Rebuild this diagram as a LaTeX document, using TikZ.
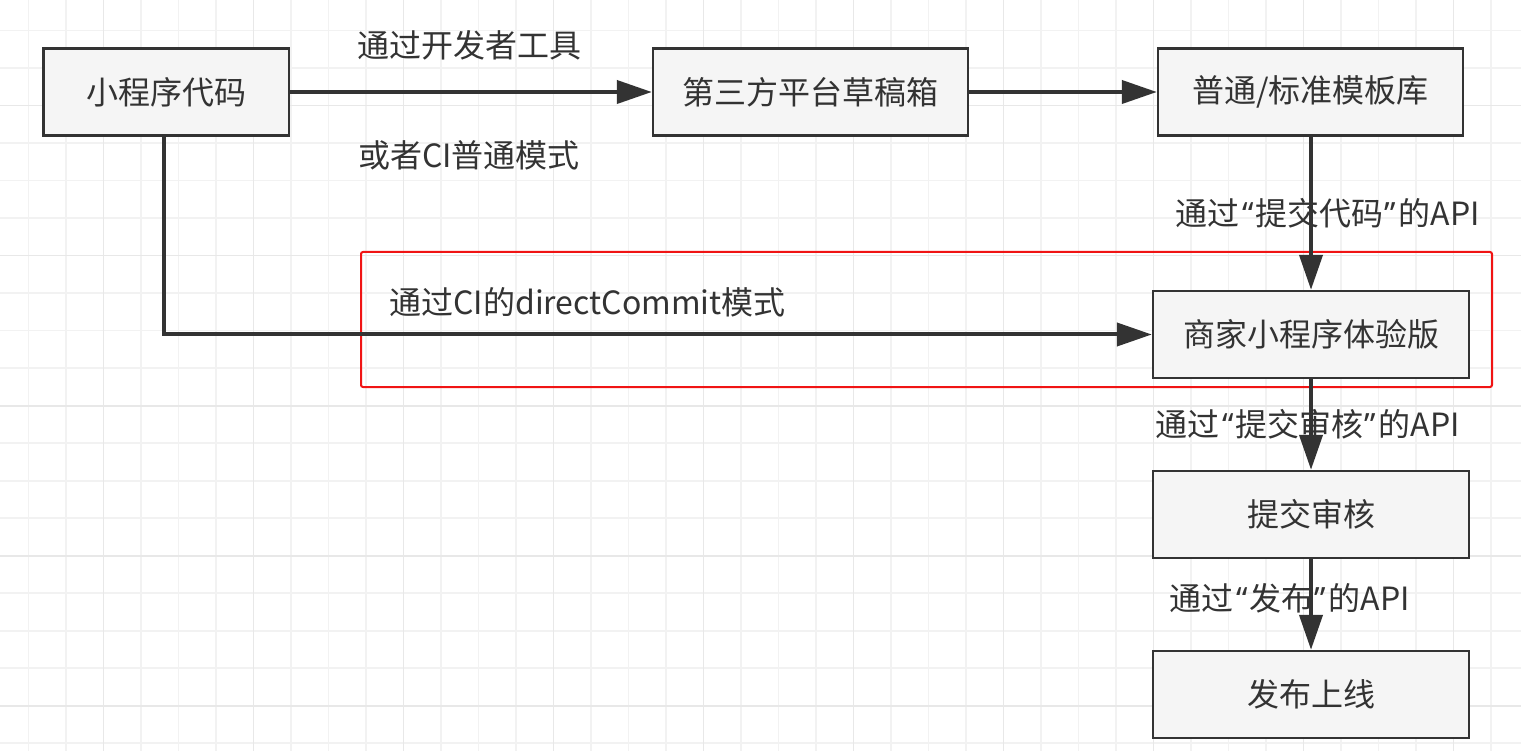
\documentclass[tikz,border=0pt]{standalone}
\usepackage{fontspec}
\setmainfont{Noto Sans CJK SC}
\newfontfamily\qfont{Noto Sans}
\newcommand{\myLQ}{{\kern2.5pt\qfont “\kern1.5pt}}
\newcommand{\myRQ}{{\kern1.5pt\qfont ”\kern2.5pt}}
\usetikzlibrary{arrows.meta}
\definecolor{ink}{HTML}{333333}
\definecolor{boxfill}{HTML}{F5F5F5}
\definecolor{gridminor}{HTML}{F2F2F2}
\definecolor{gridmajor}{HTML}{E8E8E8}
\definecolor{hl}{HTML}{F01414}
\tikzset{
  box/.style={draw=ink, fill=boxfill, line width=2.4pt, inner sep=0pt,
    minimum height=87pt, text=ink, font=\fontsize{32}{38}\selectfont},
  lbl/.style={inner sep=0pt, text=ink, font=\fontsize{32}{38}\selectfont},
  conn/.style={draw=ink, line width=4pt, -{Triangle[length=35pt,width=23pt]}},
  gminor/.style={draw=gridminor, line width=1.6pt},
  gmajor/.style={draw=gridmajor, line width=1.6pt},
}
\begin{document}
\begin{tikzpicture}[x=1pt,y=-1pt]
\useasboundingbox (0,0) rectangle (1521,751);
\fill[white] (0,0) rectangle (1521,751);
% grid
\foreach \k in {0,...,39} {
  \pgfmathsetmacro\xx{28.3+37.5*\k}
  \draw[gminor] (\xx,0) -- (\xx,751);
}
\foreach \k in {0,...,19} {
  \pgfmathsetmacro\yy{30.7+37.5*\k}
  \draw[gminor] (0,\yy) -- (1521,\yy);
}
\foreach \k in {2,6,...,38} {
  \pgfmathsetmacro\xx{28.3+37.5*\k}
  \draw[gmajor] (\xx,0) -- (\xx,751);
}
\foreach \k in {2,6,...,18} {
  \pgfmathsetmacro\yy{30.7+37.5*\k}
  \draw[gmajor] (0,\yy) -- (1521,\yy);
}
% nodes
\node[box, minimum width=245.7pt] (a) at (166.3,92) {小程序代码};
\node[box, minimum width=315pt] (b) at (810.5,92) {第三方平台草稿箱};
\node[box, minimum width=305pt] (c) at (1310.5,92) {普通/标准模板库};
\node[box, minimum width=316pt] (d) at (1311,334.5) {商家小程序体验版};
\node[box, minimum width=316pt] (e) at (1311,514.5) {提交审核};
\node[box, minimum width=316pt] (f) at (1311,694.5) {发布上线};
% highlight
\draw[hl, line width=2pt, rounded corners=2pt] (361,252) rectangle (1492,387);
% connectors
\coordinate (k) at (164.3,334.5);
\draw[conn] (a.east) -- (b.west);
\draw[conn] (b.east) -- (c.west);
\draw[conn] (c.south -| d.north) -- (d.north);
\draw[conn] (a.south -| k) -- (k) -- (d.west);
\draw[conn] (d.south) -- (e.north);
\draw[conn] (e.south) -- (f.north);
% labels
\node[lbl] (l1) at (469,45) {通过开发者工具};
\node[lbl] (l2) at (469,155) {或者CI普通模式};
\node[lbl] (l3) at (1328,213) {通过\myLQ 提交代码\myRQ 的API};
\node[lbl] (l4) at (587.5,302) {通过CI的directCommit模式};
\node[lbl] (l5) at (1308,424) {通过\myLQ 提交审核\myRQ 的API};
\node[lbl] (l6) at (1290,598) {通过\myLQ 发布\myRQ 的API};
\end{tikzpicture}
\end{document}
